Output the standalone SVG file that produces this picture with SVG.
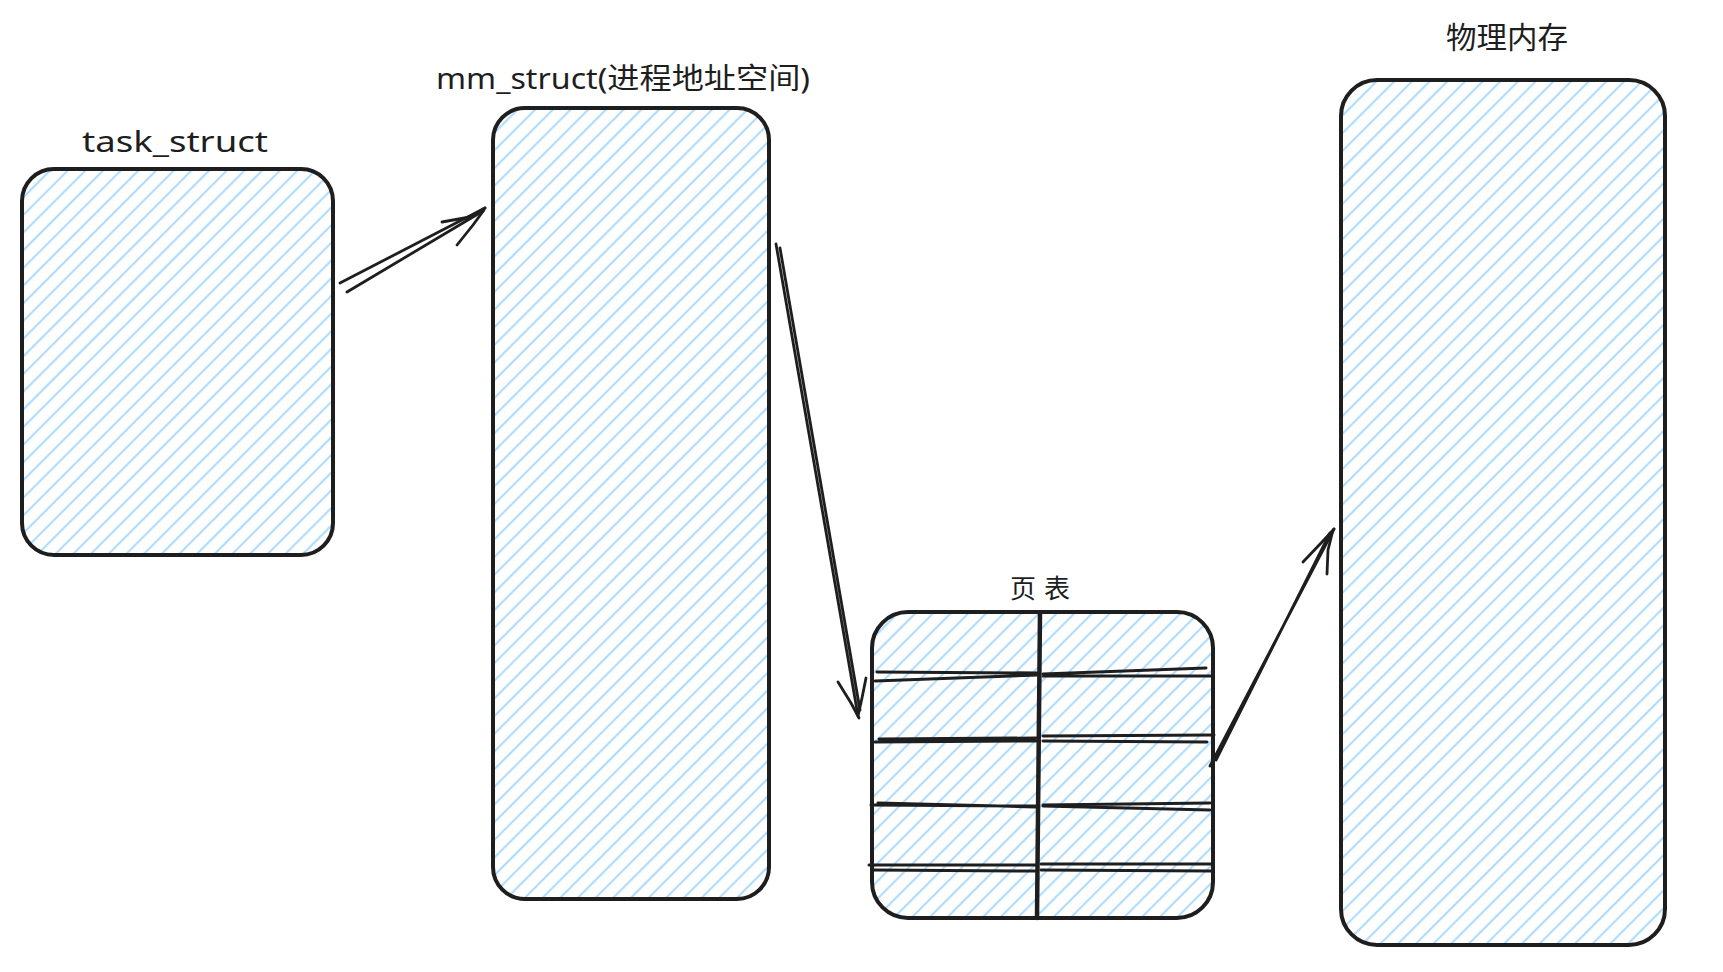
<svg xmlns="http://www.w3.org/2000/svg" width="1723" height="972" viewBox="0 0 1723 972">
  <style>
    .box { fill: url(#hatch); stroke: #1e1e1e; stroke-width: 4; }
    .ln { fill: none; stroke: #1e1e1e; stroke-width: 2.8; stroke-linecap: round; stroke-linejoin: round; }
    .grid { fill: none; stroke: #1e1e1e; stroke-width: 3; stroke-linecap: round; }
    .lbl { font-family: "Noto Sans", "Noto Sans CJK SC", sans-serif; font-size: 29px; fill: #1e1e1e; text-anchor: middle; }
  </style>
  <defs>
    <pattern id="hatch" patternUnits="userSpaceOnUse" width="12.5" height="12.5" patternTransform="rotate(45)">
      <line x1="6" y1="-1" x2="6" y2="14" stroke="#a5d8ff" stroke-width="1.9"/>
    </pattern>
  </defs>
  <rect width="1723" height="972" fill="#ffffff"/>

  <g id="task_struct">
    <rect class="box" x="22" y="169" width="311" height="386" rx="32"/>
    <text class="lbl" x="175" y="152" textLength="186" lengthAdjust="spacingAndGlyphs">task_struct</text>
  </g>

  <g id="mm_struct">
    <rect class="box" x="493" y="108" width="276" height="791" rx="32"/>
    <text class="lbl" x="623" y="89" textLength="374" lengthAdjust="spacingAndGlyphs">mm_struct(进程地址空间)</text>
  </g>

  <g id="page_table">
    <rect class="box" x="872" y="612" width="341" height="306" rx="36"/>
    <text class="lbl" x="1040" y="598" style="font-size:26px" textLength="60" lengthAdjust="spacing">页表</text>
    <path class="grid" style="stroke-width:4.5" d="M1040 613 L1037 918"/>
    <path class="grid" d="M877 672 L1038 673 M875 681 L1038 675 M1043 674 L1206 668 M1043 676 L1211 676"/>
    <path class="grid" d="M879 739 L1036 738 M875 742 L1036 741 M1043 736 L1214 735 M1043 741 L1207 742"/>
    <path class="grid" d="M871 805 L1036 806 M878 803 L1036 807 M1043 805 L1210 803 M1043 806 L1210 810"/>
    <path class="grid" d="M869 865 L1036 865 M873 870 L1036 871 M1041 864 L1212 864 M1041 870 L1212 871"/>
  </g>

  <g id="physical_memory">
    <rect class="box" x="1341" y="80" width="324" height="865" rx="36"/>
    <text class="lbl" x="1507" y="48" style="font-size:30px" textLength="122" lengthAdjust="spacingAndGlyphs">物理内存</text>
  </g>

  <g id="connectors">
    <path class="ln" d="M340 283 L485 208 M347 292 L483 211"/>
    <path class="ln" d="M442 222 L470 217 L485 208 M457 245 L473 225 L484 210"/>

    <path class="ln" d="M776 244 L858 716 M780 248 L860 710"/>
    <path class="ln" d="M838 682 L851 703 L859 718 M866 678 L862 698 L858 716"/>

    <path class="ln" d="M1210 766 L1334 529 M1216 760 L1330 533"/>
    <path class="ln" d="M1303 562 L1322 542 L1334 529 M1327 574 L1328 550 L1333 530"/>
  </g>
</svg>
